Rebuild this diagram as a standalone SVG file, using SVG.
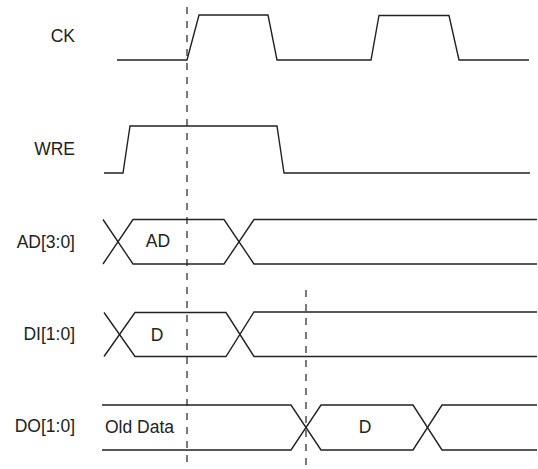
<svg xmlns="http://www.w3.org/2000/svg" width="538" height="469" viewBox="0 0 538 469">
<style>
.sig{fill:none;stroke:#222;stroke-width:1.4;stroke-linejoin:miter}
.dash{fill:none;stroke:#222;stroke-width:1.2;stroke-dasharray:7 7}
.lbl{font-family:"Liberation Sans",Arial,sans-serif;font-size:17.5px;fill:#222}
</style>
<rect width="538" height="469" fill="#fff"/>
<g id="labels">
<text class="lbl" x="75" y="42" text-anchor="end">CK</text>
<text class="lbl" x="75" y="155" text-anchor="end">WRE</text>
<text class="lbl" x="75" y="248" text-anchor="end">AD[3:0]</text>
<text class="lbl" x="75" y="340" text-anchor="end">DI[1:0]</text>
<text class="lbl" x="75" y="432" text-anchor="end">DO[1:0]</text>
</g>
<g id="CK">
<polyline class="sig" points="117,60 187,60 199,15 268,15 277,60 371,60 379,15.5 449,15.5 459,60 529,60"/>
</g>
<g id="WRE">
<polyline class="sig" points="104,173 123,173 130,126 277,126 284,173 530,173"/>
</g>
<g id="AD">
<polyline class="sig" points="103,219.5 133,264 224,264 254,219.5 537,219.5"/>
<polyline class="sig" points="103,264 133,219.5 224,219.5 254,264 537,264"/>
<text class="lbl" x="158" y="247" text-anchor="middle">AD</text>
</g>
<g id="DI">
<polyline class="sig" points="104,312.5 135,356.5 226,356.5 254,312 537,312"/>
<polyline class="sig" points="104,356.5 135,312.5 226,312.5 254,356.5 537,356.5"/>
<text class="lbl" x="157" y="341" text-anchor="middle">D</text>
</g>
<g id="DO">
<polyline class="sig" points="102,405 291,405 321,450 413,450 442,405 537,405"/>
<polyline class="sig" points="102,450 291,450 321,405 413,405 442,450 537,450"/>
<text class="lbl" x="105" y="433">Old Data</text>
<text class="lbl" x="365" y="433" text-anchor="middle">D</text>
</g>
<g id="connectors">
<line class="dash" x1="187" y1="7" x2="187" y2="466"/>
<line class="dash" x1="306" y1="290" x2="306" y2="466"/>
</g>
</svg>
